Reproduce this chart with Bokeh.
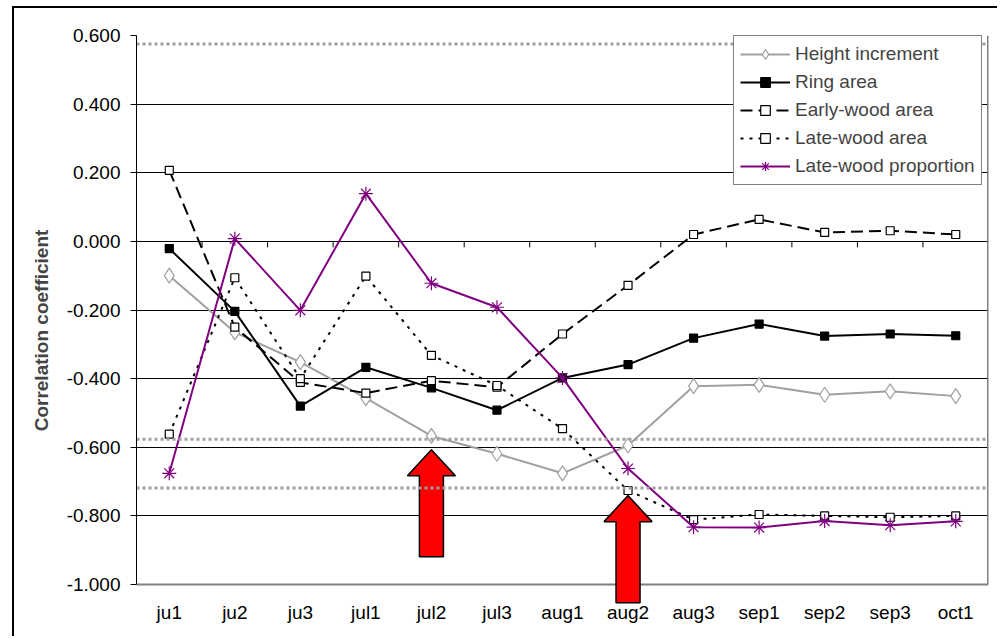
from bokeh.plotting import figure
from bokeh.models import (FixedTicker, NumeralTickFormatter, Legend, LegendItem,
                          Span)
from bokeh.embed import file_html
from bokeh.resources import INLINE

categories = ["ju1", "ju2", "ju3", "jul1", "jul2", "jul3", "aug1", "aug2",
              "aug3", "sep1", "sep2", "sep3", "oct1"]
height_increment = [-0.100, -0.265, -0.352, -0.457, -0.567, -0.619, -0.676,
                    -0.595, -0.422, -0.418, -0.447, -0.437, -0.451]
ring_area = [-0.021, -0.204, -0.480, -0.367, -0.427, -0.492, -0.398, -0.359,
             -0.282, -0.241, -0.276, -0.270, -0.275]
early_wood_area = [0.207, -0.250, -0.411, -0.442, -0.406, -0.425, -0.270,
                   -0.128, 0.020, 0.064, 0.026, 0.031, 0.020]
late_wood_area = [-0.562, -0.106, -0.400, -0.101, -0.332, -0.420, -0.546,
                  -0.726, -0.811, -0.796, -0.800, -0.804, -0.800]
late_wood_proportion = [-0.676, 0.008, -0.201, 0.139, -0.122, -0.192, -0.398,
                        -0.662, -0.833, -0.834, -0.815, -0.827, -0.816]
significance_levels = [0.575, -0.577, -0.719]
y_ticks = [-1.0, -0.8, -0.6, -0.4, -0.2, 0.0, 0.2, 0.4, 0.6]
arrow_categories = ["jul2", "aug2"]
arrow_tips = [-0.607, -0.741]

FONT = "Liberation Sans"
n = len(categories)
xs = list(range(1, n + 1))
Y0, Y1 = y_ticks[0], y_ticks[-1]

W, H = 985, 630
ML, MR, MT, MB = 122, 11, 27, 13
frame_h = H - MT - MB
px_per_unit = 549 / (Y1 - Y0)
y_start = Y1 - frame_h / px_per_unit
p = figure(width=W, height=H, output_backend="svg", toolbar_location=None,
           x_range=(0.5, n + 0.5), y_range=(y_start, Y1),
           min_border_left=ML, min_border_right=MR, min_border_top=MT,
           min_border_bottom=MB)
p.styles = {"border-left": "2px solid black", "border-top": "2px solid black",
            "margin-left": "12px", "margin-top": "6px"}

p.outline_line_color = None
p.xgrid.grid_line_color = None
p.ygrid.ticker = FixedTicker(ticks=y_ticks[1:])
p.ygrid.grid_line_color = "black"
p.ygrid.grid_line_width = 1

p.yaxis.ticker = FixedTicker(ticks=y_ticks)
p.yaxis.bounds = (Y0, Y1)
p.yaxis.formatter = NumeralTickFormatter(format="0.000")
p.yaxis.major_label_text_font = FONT
p.yaxis.major_label_text_font_size = "19px"
p.yaxis.major_label_text_color = "black"
p.yaxis.axis_line_color = "black"
p.yaxis.major_tick_line_color = "black"
p.yaxis.major_tick_out = 6
p.yaxis.major_tick_in = 0
p.yaxis.minor_tick_line_color = None
p.yaxis.major_label_standoff = 10
p.yaxis.axis_label = "Correlation coefficient"
p.yaxis.axis_label_text_font = FONT
p.yaxis.axis_label_text_font_style = "bold"
p.yaxis.axis_label_text_font_size = "19px"
p.yaxis.axis_label_standoff = 12
p.xaxis.visible = False

dy_px = 1.0 / px_per_unit
dx_px = n / (W - ML - MR)

# plot-area border (bottom and right, grey)
p.add_layout(Span(location=Y0, dimension="width", line_color="#808080",
                  line_width=2, level="underlay"))
p.segment(x0=[n + 0.5], x1=[n + 0.5], y0=[Y0], y1=[Y1], line_color="#808080",
          line_width=3)

# category labels under the plot area
p.text(x=xs, y=[Y0 - 28 * dy_px] * n, text=categories, text_align="center",
       text_baseline="middle", text_font_size="19px", text_color="black",
       text_font={"value": FONT})

# category-axis tick marks on the zero line
bounds = [x + 0.5 for x in xs[:-1]]
p.segment(x0=bounds, x1=bounds, y0=[0] * len(bounds), y1=[-6 * dy_px] * len(bounds),
          line_color="black", line_width=1)

for lvl in significance_levels:
    p.add_layout(Span(location=lvl, dimension="width", line_color="#a0a0a0",
                      line_width=3, line_dash="3 3", level="glyph"))

items = []
def series(vals, label, color, dash, marker, size, fill, lw=2):
    l = p.line(xs, vals, line_color=color, line_width=lw, line_dash=dash)
    s = p.scatter(xs, vals, marker=marker, size=size, line_color=color,
                  fill_color=fill, line_width=1.2)
    items.append(LegendItem(label=label, renderers=[l, s]))

series(height_increment, "Height increment", "#a0a0a0", "solid", "diamond", 15, "white")
series(ring_area, "Ring area", "black", "solid", "square", 8, "black")
series(early_wood_area, "Early-wood area", "black", "12 6", "square", 8, "white")
series(late_wood_area, "Late-wood area", "black", "3 6", "square", 8, "white")
series(late_wood_proportion, "Late-wood proportion", "#800080", "solid", "asterisk", 14, None)

# red arrows
shape = [(0, 0), (24, 26), (12, 26), (12, 107), (-12, 107), (-12, 26), (-24, 26)]
axs, ays = [], []
for cat, tip in zip(arrow_categories, arrow_tips):
    cx = categories.index(cat) + 1
    axs.append([cx + sx * dx_px for sx, sy in shape])
    ays.append([tip - sy * dy_px for sx, sy in shape])
p.patches(axs, ays, fill_color="#ff0000", line_color="black", line_width=1.5)

legend = Legend(items=items, location=(597, 440))
legend.label_text_font = FONT
legend.label_text_font_size = "19px"
legend.glyph_width = 50
legend.glyph_height = 24
legend.label_standoff = 5
legend.spacing = 4
legend.padding = 6
legend.margin = 0
legend.border_line_color = "black"
legend.border_line_width = 1
legend.background_fill_color = "white"
legend.background_fill_alpha = 1
p.add_layout(legend)

open("out.html", "w").write(file_html(p, INLINE))
